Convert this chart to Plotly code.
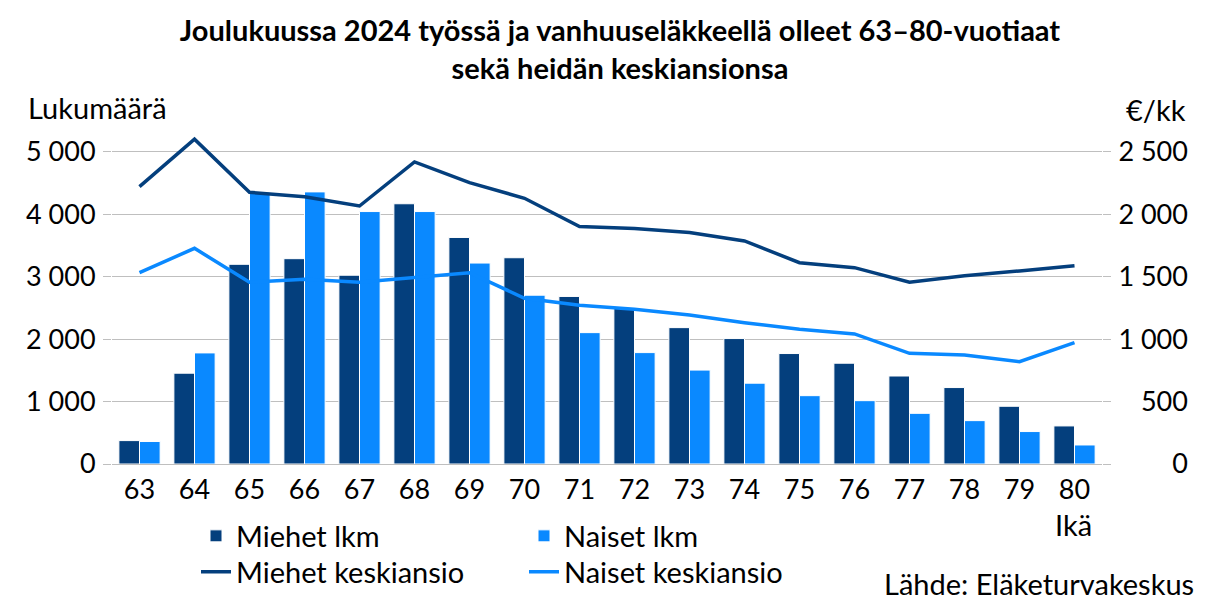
import plotly.graph_objects as go

ages = ["63", "64", "65", "66", "67", "68", "69", "70", "71", "72", "73", "74", "75", "76", "77", "78", "79", "80"]
miehet_lkm = [375, 1455, 3200, 3290, 3025, 4170, 3630, 3305, 2685, 2495, 2185, 2010, 1770, 1615, 1410, 1225, 925, 610]
naiset_lkm = [360, 1780, 4355, 4360, 4045, 4045, 3220, 2705, 2105, 1785, 1505, 1295, 1095, 1015, 812, 695, 520, 305]
miehet_ansio = [2222, 2602, 2177, 2142, 2067, 2420, 2254, 2129, 1902, 1886, 1854, 1787, 1613, 1573, 1456, 1509, 1547, 1589]
naiset_ansio = [1533, 1728, 1456, 1480, 1456, 1496, 1533, 1328, 1271, 1239, 1194, 1132, 1079, 1042, 887, 873, 820, 972]

left_tick_vals = [0, 1000, 2000, 3000, 4000, 5000]
right_tick_vals = [0, 500, 1000, 1500, 2000, 2500]
right_tick_labels = ["0", "500", "1 000", "1 500", "2 000", "2 500"]

DARK = "#043F7D"
LIGHT = "#0A89FF"
FONT = "Lato"
GRID = "#BFBFBF"
TXT = 29
TICK = 27

def pad(lbl, width=5):
    out = lbl
    while len(out) < width:
        n = len(out)
        out = ("\u00a0" if n == 3 else "\u2007") + out
    return out

fig = go.Figure()
fig.add_trace(go.Bar(x=ages, y=miehet_lkm, name="Miehet lkm", marker=dict(color=DARK, line=dict(color="white", width=1)), legend="legend"))
fig.add_trace(go.Bar(x=ages, y=naiset_lkm, name="Naiset lkm", marker=dict(color=LIGHT, line=dict(color="white", width=1)), legend="legend"))
fig.add_trace(go.Scatter(x=ages, y=miehet_ansio, name="Miehet keskiansio", mode="lines", line=dict(color=DARK, width=3.5), yaxis="y2", legend="legend2"))
fig.add_trace(go.Scatter(x=ages, y=naiset_ansio, name="Naiset keskiansio", mode="lines", line=dict(color=LIGHT, width=3.5), yaxis="y2", legend="legend2"))

OFF = 8  # page body margin
W, H = 1232 - OFF, 600 - OFF
L, T = 112 - OFF, 127 - OFF
pw, ph = 990, 337
R = W - L - pw
B = H - T - ph

def px(x):
    return (x - OFF - L) / pw
def py(y):
    return (T + ph - (y - OFF)) / ph

fig.update_layout(
    width=W, height=H,
    margin=dict(l=L, r=R, t=T, b=B, autoexpand=False),
    paper_bgcolor="white", plot_bgcolor="white",
    font=dict(family=FONT, size=TXT, color="black"),
    separators=", ",
    barmode="group", bargap=0.25, bargroupgap=0.0,
    title=dict(text="<b>Joulukuussa 2024 työssä ja vanhuuseläkkeellä olleet 63–80-vuotiaat<br>sekä heidän keskiansionsa</b>",
               x=0.5, xanchor="center", xref="container", y=1 - (41 - OFF) / H, yanchor="middle", yref="container",
               font=dict(family=FONT, size=29, color="black")),
    xaxis=dict(type="category", showgrid=False, showline=True, linecolor=GRID, linewidth=1,
               ticks="", tickfont=dict(size=TICK), ticklabelstandoff=2, automargin=False),
    yaxis=dict(range=[0, 5400], tickvals=left_tick_vals, tickformat=",", showgrid=True, gridcolor=GRID, gridwidth=1,
               zeroline=False, ticks="outside", ticklen=8, tickcolor=GRID, tickfont=dict(size=TICK),
               ticklabelstandoff=2, automargin=False),
    yaxis2=dict(range=[0, 2700], overlaying="y", side="right", tickvals=right_tick_vals,
                ticktext=[pad(t) for t in right_tick_labels], showgrid=False, zeroline=False,
                ticks="outside", ticklen=8, tickcolor=GRID, tickfont=dict(size=TICK), ticklabelstandoff=2,
                automargin=False),
    legend=dict(orientation="h", x=px(196), xanchor="left", y=py(536), yanchor="middle",
                entrywidth=283, entrywidthmode="pixels", font=dict(size=TXT), bgcolor="rgba(0,0,0,0)",
                traceorder="normal"),
    legend2=dict(orientation="h", x=px(196), xanchor="left", y=py(572), yanchor="middle",
                 entrywidth=283, entrywidthmode="pixels", font=dict(size=TXT), bgcolor="rgba(0,0,0,0)",
                 traceorder="normal"),
    annotations=[
        dict(text="Lukumäärä", xref="paper", yref="paper", x=px(26), y=py(108), xanchor="left", yanchor="middle",
             showarrow=False, font=dict(size=TXT)),
        dict(text="€/kk", xref="paper", yref="paper", x=px(1188), y=py(110), xanchor="right", yanchor="middle",
             showarrow=False, font=dict(size=TXT)),
        dict(text="Ikä", xref="paper", yref="paper", x=px(1073), y=py(524), xanchor="center", yanchor="middle",
             showarrow=False, font=dict(size=TXT)),
        dict(text="Lähde: Eläketurvakeskus", xref="paper", yref="paper", x=px(1196), y=py(583), xanchor="right",
             yanchor="middle", showarrow=False, font=dict(size=TXT)),
    ],
)

fig.write_html("out.html")
